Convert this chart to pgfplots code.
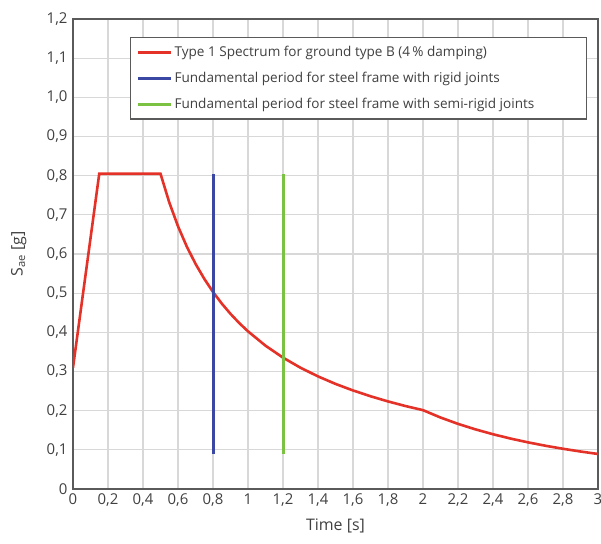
\documentclass[border=0pt]{standalone}
\usepackage{pgfplots}
\pgfplotsset{compat=1.18}
\usepackage{fontspec}
\setmainfont{Open Sans}
\definecolor{specred}{HTML}{E53228}
\definecolor{rigblue}{HTML}{3A47A3}
\definecolor{semigreen}{HTML}{7CC242}
\definecolor{axgray}{HTML}{5A5A5A}
\definecolor{gridgray}{HTML}{D8D8D8}
\definecolor{txt}{HTML}{404040}
\begin{document}
\begin{tikzpicture}[x=1bp,y=1bp]
\useasboundingbox (-73bp,-55bp) rectangle (528bp,489bp);
\begin{axis}[
  at={(0,0)}, anchor=south west,
  scale only axis, width=525bp, height=470bp,
  xmin=0, xmax=3, ymin=0, ymax=1.2,
  xtick={0,0.2,0.4,0.6,0.8,1,1.2,1.4,1.6,1.8,2,2.2,2.4,2.6,2.8,3},
  xticklabels={0,{0,2},{0,4},{0,6},{0,8},1,{1,2},{1,4},{1,6},{1,8},2,{2,2},{2,4},{2,6},{2,8},3},
  ytick={0,0.1,0.2,0.3,0.4,0.5,0.6,0.7,0.8,0.9,1.0,1.1,1.2},
  yticklabels={0,{0,1},{0,2},{0,3},{0,4},{0,5},{0,6},{0,7},{0,8},{0,9},{1,0},{1,1},{1,2}},
  major tick length=0pt,
  grid=major,
  major grid style={gridgray, line width=1.2bp},
  axis line style={axgray, line width=1.5bp},
  tick label style={font=\fontsize{15}{15}\selectfont, text=txt},
  xticklabel style={yshift=-1bp},
  yticklabel style={xshift=-2bp},
  xlabel={Time [s]},
  ylabel={S\textsubscript{ae} [g]},
  label style={font=\fontsize{16}{16}\selectfont, text=txt},
  xlabel style={at={(axis description cs:0.5,0)}, anchor=north, yshift=-26bp},
  ylabel style={at={(axis description cs:0,0.5)}, anchor=south, yshift=43bp},
  legend style={at={(axis description cs:0.1086,0.962)}, anchor=north west,
    draw=axgray, line width=1.2bp, font=\fontsize{13.6}{13.6}\selectfont, text=txt,
    row sep=10bp, inner xsep=6bp, inner ysep=7bp, legend cell align=left},
  legend image code/.code={\draw[#1, line width=3bp] (0bp,0bp) -- (33bp,0bp);},
]
\addplot[specred, line width=2.6bp] coordinates {
(0,0.31) (0.15,0.805) (0.5,0.805) (0.55,0.7318) (0.6,0.6708) (0.65,0.6192) (0.7,0.575)
(0.75,0.5367) (0.8,0.5031) (0.85,0.4735) (0.9,0.4472) (0.95,0.4237) (1.0,0.4025)
(1.1,0.3659) (1.2,0.3354) (1.3,0.3096) (1.4,0.2875) (1.5,0.2683) (1.6,0.2516)
(1.7,0.2368) (1.8,0.2236) (1.9,0.2118) (2.0,0.2013) (2.1,0.1825) (2.2,0.1663)
(2.3,0.1522) (2.4,0.1398) (2.5,0.1288) (2.6,0.1191) (2.7,0.1104) (2.8,0.1027)
(2.9,0.0957) (3.0,0.0894)};
\addlegendentry{Type 1 Spectrum for ground type B (4\,\% damping)}
\addplot[rigblue, line width=3bp] coordinates {(0.8,0.09) (0.8,0.805)};
\addlegendentry{Fundamental period for steel frame with rigid joints}
\addplot[semigreen, line width=3bp] coordinates {(1.2,0.09) (1.2,0.805)};
\addlegendentry{Fundamental period for steel frame with semi-rigid joints\hspace*{44bp}}
\end{axis}
\end{tikzpicture}
\end{document}
